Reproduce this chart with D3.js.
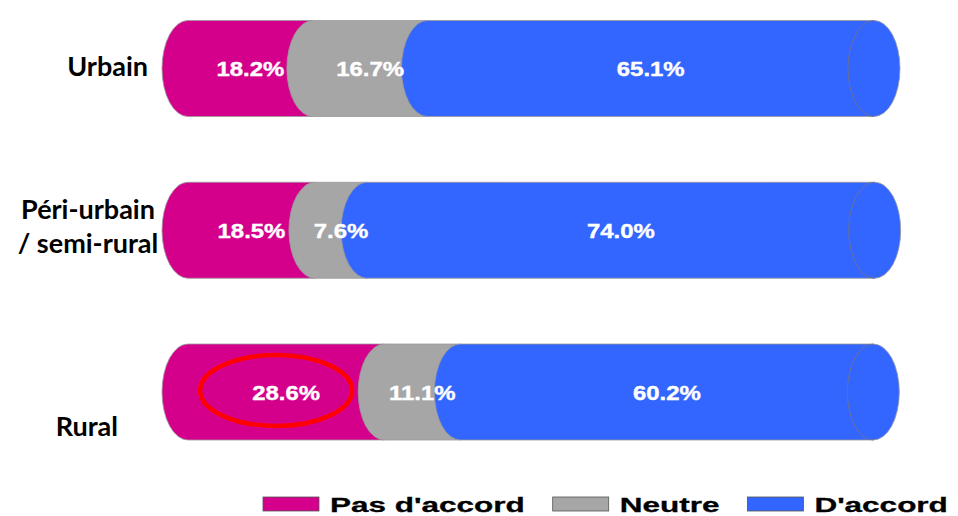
<!DOCTYPE html>
<html>
<head>
<meta charset="utf-8">
<script src="https://cdn.jsdelivr.net/npm/d3@7"></script>
<style>
  body { margin: 0; background: #fff; }
  svg { display: block; }
</style>
</head>
<body>
<svg id="viz"></svg>
<script>
const width = 958, height = 516;

// data
const categories = ["Urbain", "Péri-urbain / semi-rural", "Rural"];
const series = ["Pas d'accord", "Neutre", "D'accord"];
const pasDaccord = [18.2, 18.5, 28.6];
const neutre = [16.7, 7.6, 11.1];
const daccord = [65.1, 74.0, 60.2];
const colors = ["#d4008c", "#a6a6a6", "#3366ff"];

const rows = categories.map((c, i) => {
  const vals = [pasDaccord[i], neutre[i], daccord[i]];
  let cum = 0;
  return {
    name: c,
    segs: vals.map((v, j) => {
      const s = { key: series[j], v: v, x0: cum, x1: cum + v, last: j === vals.length - 1 };
      cum += v;
      return s;
    })
  };
});

const svg = d3.select("#viz").attr("width", width).attr("height", height);

const x = d3.scaleLinear().domain([0, 100]).range([188, 874]);
const y = d3.scalePoint().domain(categories).range([68.5, 392]);
const barH = 96, rx = 26, ry = barH / 2;

function segPath(d, cy) {
  const xs = x(d.x0), xe = x(d.x1), top = cy - ry, bot = cy + ry;
  let p = `M${xs},${top}L${xe},${top}`;
  if (d.last) p += `A${rx},${ry} 0 0 1 ${xe},${bot}`;
  else p += `L${xe},${bot}`;
  p += `L${xs},${bot}A${rx},${ry} 0 0 1 ${xs},${top}Z`;
  return p;
}

const row = svg.selectAll("g.row")
  .data(rows)
  .enter().append("g")
  .attr("class", "row");

row.each(function(r) {
  const g = d3.select(this);
  const cy = y(r.name);
  g.selectAll("path.seg")
    .data(r.segs)
    .enter().append("path")
    .attr("class", "seg")
    .attr("d", d => segPath(d, cy))
    .attr("fill", (d, j) => colors[j])
    .attr("stroke", "#9a9a9a")
    .attr("stroke-width", 0.8);

  // inner end ellipse of the cylinder
  const end = r.segs[r.segs.length - 1];
  g.append("path")
    .attr("d", `M${x(end.x1)},${cy - ry}A${rx},${ry} 0 0 0 ${x(end.x1)},${cy + ry}`)
    .attr("fill", "none")
    .attr("stroke", "#6b6f99")
    .attr("stroke-width", 1);

  g.selectAll("text.val")
    .data(r.segs)
    .enter().append("text")
    .attr("class", "val")
    .attr("transform", d => `translate(${(x(d.x0) + x(d.x1)) / 2},${cy + 7.5}) scale(1.14,1)`)
    .attr("text-anchor", "middle")
    .attr("font-family", "'Liberation Sans', Arial, sans-serif")
    .attr("font-weight", "bold")
    .attr("font-size", 21)
    .attr("fill", "#fff")
    .attr("stroke", "#fff")
    .attr("stroke-width", 0.4)
    .text(d => d.v.toFixed(1) + "%");
});

// category labels
const labelLayout = [
  { anchor: "end", dx: 148, lines: [["Urbain", 7.5]] },
  { anchor: "middle", dx: 88, lines: [["Péri-urbain", -11], ["/ semi-rural", 23]] },
  { anchor: "end", dx: 118, lines: [["Rural", 44]] }
];
categories.forEach((c, i) => {
  const L = labelLayout[i];
  L.lines.forEach(([t, off]) => {
    svg.append("text")
      .attr("x", L.dx)
      .attr("y", y(c) + off)
      .attr("text-anchor", L.anchor)
      .attr("font-family", "Lato, 'Open Sans', sans-serif")
      .attr("font-weight", "bold")
      .attr("font-size", 27)
      .attr("fill", "#000")
      .text(t);
  });
});

// highlight ellipse around rural disagreement
const hl = rows[2].segs[0];
svg.append("ellipse")
  .attr("cx", (x(hl.x0) + x(hl.x1)) / 2 - 10)
  .attr("cy", y("Rural") - 1.5)
  .attr("rx", 76)
  .attr("ry", 35.5)
  .attr("fill", "none")
  .attr("stroke", "#ff0000")
  .attr("stroke-width", 4.5);

// legend
const legend = svg.append("g");
const lScale = 1.5;
let lx = 263;
series.forEach((s, j) => {
  legend.append("rect")
    .attr("x", lx).attr("y", 497)
    .attr("width", 56).attr("height", 14)
    .attr("fill", colors[j])
    .attr("stroke", "#555")
    .attr("stroke-width", 0.8);
  const t = legend.append("text")
    .attr("transform", `translate(${lx + 67},512) scale(${lScale},1)`)
    .attr("font-family", "'Liberation Sans', Arial, sans-serif")
    .attr("font-weight", "bold")
    .attr("font-size", 21)
    .attr("fill", "#000")
    .attr("stroke", "#000")
    .attr("stroke-width", 0.3)
    .text(s);
  lx += 67 + t.node().getComputedTextLength() * lScale + 28;
});
</script>
</body>
</html>
